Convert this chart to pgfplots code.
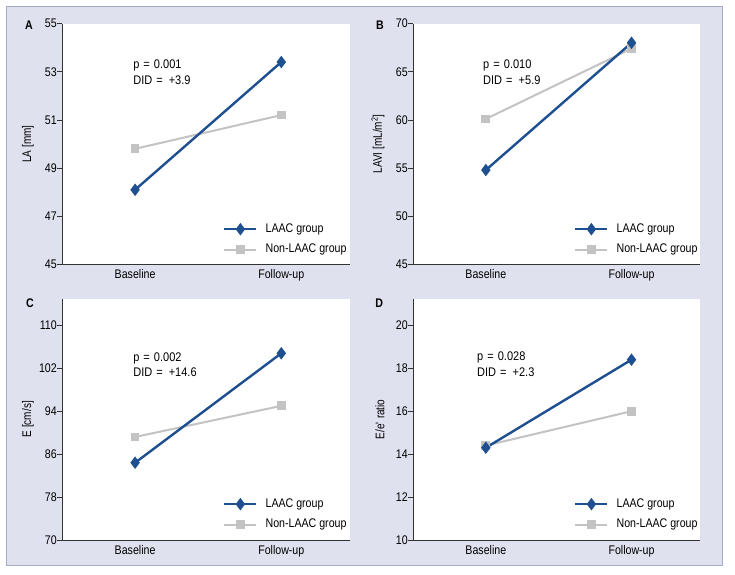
\documentclass[border=0pt]{standalone}
\usepackage{pgfplots}
\pgfplotsset{compat=1.18}
\usepackage{fontspec}
\setmainfont{Liberation Sans}[FakeStretch=0.85]
\newfontfamily\labfont{Liberation Sans}[FakeStretch=0.8]
\newfontfamily\annfont{Liberation Sans}[FakeStretch=0.88]
\definecolor{bgcol}{HTML}{DFE1EF}
\definecolor{bordercol}{HTML}{A6ABC9}
\definecolor{axiscol}{HTML}{333333}
\definecolor{laacblue}{HTML}{1D4F91}
\definecolor{nongray}{HTML}{C3C3C3}
\newcommand{\fs}{\fontsize{12.5}{15.5}\selectfont}
\newcommand{\ann}[2]{p\hspace{1pt} = \hspace{1pt}#1\\DID\hspace{1pt} = \hspace{3pt}#2}
\tikzset{annnode/.style={anchor=west, align=left, inner sep=0pt, font=\annfont\fontsize{12.5}{15.5}\selectfont}}
\pgfplotsset{
 panel/.style={
  scale only axis, height=241pt,
  xmin=-0.5, xmax=1.47,
  axis x line*=bottom, axis y line*=left,
  axis line style={draw=axiscol, line width=0.8pt, -},
  xtick={0,1}, xticklabels={Baseline,Follow-up},
  xtick style={draw=none},
  tick align=outside, major tick length=5pt,
  ytick style={draw=axiscol, line width=0.6pt},
  axis background/.style={fill=white},
  tick label style={font=\fs, text=black},
  /pgf/number format/assume math mode=true,
  yticklabel style={inner sep=0pt, anchor=east},
  xticklabel style={inner sep=0pt, text height=8.8pt, text depth=0pt, anchor=north},
  ylabel style={font=\labfont\fontsize{12.5}{14}\selectfont, anchor=center},
  clip=false,
  reverse legend,
  legend style={draw=none, fill=none, font=\fs, anchor=west, inner sep=0pt,
    nodes={inner sep=0pt, text height=9pt, text depth=2.5pt}, row sep=9pt, column sep=8pt},
  legend cell align=left,
  legend image code/.code={\draw[mark repeat=2,mark phase=2] plot coordinates {(0pt,0pt)(16pt,0pt)(32pt,0pt)};},
 },
 laac/.style={color=laacblue, line width=2.4pt, mark=diamond*, mark size=4.3pt, mark options={solid}},
 non/.style={color=nongray, line width=2pt, mark=square*, mark size=3.4pt, mark options={solid}},
}
\begin{document}
\begin{tikzpicture}
\path[use as bounding box, fill=white] (0pt,0pt) rectangle (735pt,-574pt);
\filldraw[fill=bgcol, draw=bordercol, line width=1pt] (6pt,-6pt) rectangle (722pt,-565pt);

% Panel A
\begin{axis}[panel, at={(62pt,-264.5pt)}, anchor=south west, width=288pt,
  ymin=45, ymax=55, ytick={45,47,49,51,53,55},
  ylabel={LA [mm]}, ylabel style={at={(axis description cs:-0.118,0.5)}},
  legend style={at={(axis description cs:0.559,0.104)}}]
\addplot[non] coordinates {(0,49.8) (1,51.2)};
\addlegendentry{Non-LAAC group}
\addplot[laac] coordinates {(0,48.1) (1,53.4)};
\addlegendentry{LAAC group}
\node[font=\fs\bfseries, anchor=center] at (axis description cs:-0.115,0.994) {A};
\node[annnode] at (axis description cs:0.247,0.799) {\ann{0.001}{+3.9}};
\end{axis}

% Panel B
\begin{axis}[panel, at={(413pt,-264.5pt)}, anchor=south west, width=287pt,
  ymin=45, ymax=70, ytick={45,50,55,60,65,70},
  ylabel={LAVI [mL/m\textsuperscript{2}]}, ylabel style={at={(axis description cs:-0.122,0.5)}},
  legend style={at={(axis description cs:0.561,0.104)}}]
\addplot[non] coordinates {(0,60.1) (1,67.4)};
\addlegendentry{Non-LAAC group}
\addplot[laac] coordinates {(0,54.8) (1,68.0)};
\addlegendentry{LAAC group}
\node[font=\fs\bfseries, anchor=center] at (axis description cs:-0.115,0.994) {B};
\node[annnode] at (axis description cs:0.244,0.799) {\ann{0.010}{+5.9}};
\end{axis}

% Panel C
\begin{axis}[panel, at={(62pt,-540pt)}, anchor=south west, width=288pt, height=241.5pt,
  ymin=70, ymax=115, ytick={70,78,86,94,102,110},
  ylabel={E [cm/s]}, ylabel style={at={(axis description cs:-0.118,0.5)}},
  legend style={at={(axis description cs:0.559,0.106)}}]
\addplot[non] coordinates {(0,89.2) (1,95.0)};
\addlegendentry{Non-LAAC group}
\addplot[laac] coordinates {(0,84.4) (1,104.8)};
\addlegendentry{LAAC group}
\node[font=\fs\bfseries, anchor=center] at (axis description cs:-0.111,0.981) {C};
\node[annnode] at (axis description cs:0.247,0.725) {\ann{0.002}{+14.6}};
\end{axis}

% Panel D
\begin{axis}[panel, at={(413pt,-540pt)}, anchor=south west, width=287pt, height=241.5pt,
  ymin=10, ymax=21.25, ytick={10,12,14,16,18,20},
  ylabel={E/e\textquotesingle\ ratio}, ylabel style={at={(axis description cs:-0.115,0.5)}},
  legend style={at={(axis description cs:0.561,0.106)}}]
\addplot[non] coordinates {(0,14.4) (1,16.0)};
\addlegendentry{Non-LAAC group}
\addplot[laac] coordinates {(0,14.3) (1,18.4)};
\addlegendentry{LAAC group}
\node[font=\fs\bfseries, anchor=center] at (axis description cs:-0.118,0.981) {D};
\node[annnode] at (axis description cs:0.223,0.727) {\ann{0.028}{+2.3}};
\end{axis}
\end{tikzpicture}
\end{document}
